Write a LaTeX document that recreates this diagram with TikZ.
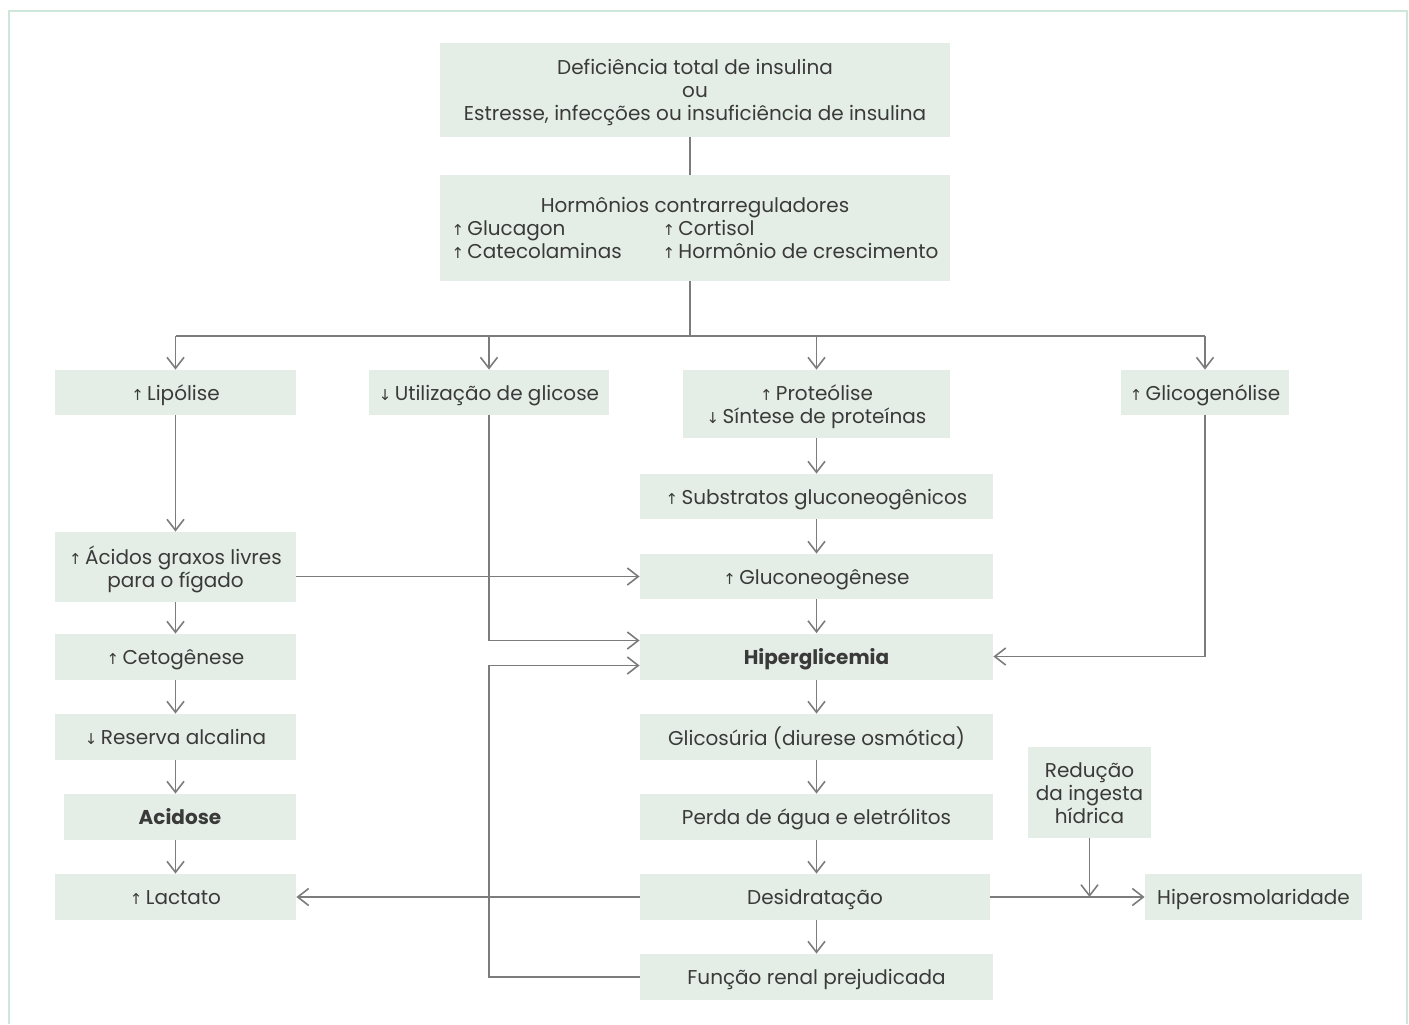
\documentclass[tikz,border=0pt]{standalone}
\usepackage{fontspec}
\setmainfont{Poppins}
\newfontfamily\arrowfont{DejaVu Sans}
\usetikzlibrary{arrows.meta}
\definecolor{boxfill}{HTML}{E5EEE6}
\definecolor{txt}{HTML}{3A3A3A}
\definecolor{wire}{HTML}{7C7C7C}
\definecolor{framecol}{HTML}{CFE6DB}
% small up / down markers used before the labels
\newcommand{\incr}{{\arrowfont\fontsize{7.5}{7.5}\selectfont ↑}\,}
\newcommand{\decr}{{\arrowfont\fontsize{7.5}{7.5}\selectfont ↓}\,}
% label text, set a little below the geometric centre of its box
\newcommand{\lbl}[1]{\raisebox{-1.5pt}[\height][\depth]{\begin{tabular}{@{}c@{}}#1\end{tabular}}}
\begin{document}
\begin{tikzpicture}[x=0.5pt,y=-0.5pt,
  box/.style={fill=boxfill, text=txt, align=center, inner sep=0pt,
    font=\fontsize{10}{11.5}\selectfont},
  wh/.style 2 args={minimum width=#1*0.5pt, minimum height=#2*0.5pt},
  wire/.style={draw=wire, line width=0.8pt},
  arr/.style={wire, -{Straight Barb[length=5.5pt,width=8.5pt]}}]
\useasboundingbox (0,0) rectangle (1409,1024);
% outer frame
\draw[framecol, line width=1.2pt] (9,1024) -- (9,11) -- (1407,11) -- (1407,1024);

% top of the cascade
\node[box, wh={510}{94}] (cause) at (695,90)
  {\lbl{Deficiência total de insulina\\ou\\Estresse, infecções ou insuficiência de insulina}};
\node[box, wh={510}{106}] (horm) at (695,228)
  {\raisebox{-1.5pt}[\height][\depth]{\begin{tabular}{@{}p{105.5pt}@{}l@{}}
   \multicolumn{2}{c}{Hormônios contrarreguladores}\\
   \incr Glucagon & \incr Cortisol\\
   \incr Catecolaminas & \incr Hormônio de crescimento
   \end{tabular}}};
\coordinate (split) at (690,336);

% first row of effects
\node[box, wh={241}{45}] (lip) at (175.5,392.5) {\lbl{\incr Lipólise}};
\node[box, wh={240}{45}] (util) at (489,392.5) {\lbl{\decr Utilização de glicose}};
\node[box, wh={267}{68}] (prot) at (816.5,404) {\lbl{\incr Proteólise\\\decr Síntese de proteínas}};
\node[box, wh={168}{45}] (glic) at (1205,392.5) {\lbl{\incr Glicogenólise}};

% left column
\node[box, wh={241}{70}] (acid) at (175.5,567) {\lbl{\incr Ácidos graxos livres\\para o fígado}};
\node[box, wh={241}{46}] (ceto) at (175.5,657) {\lbl{\incr Cetogênese}};
\node[box, wh={241}{46}] (res) at (175.5,737) {\lbl{\decr Reserva alcalina}};
\node[box, wh={232}{46}] (acd) at (180,817) {\lbl{\bfseries Acidose}};
\node[box, wh={241}{46}] (lact) at (175.5,897) {\lbl{\incr Lactato}};

% middle column
\node[box, wh={353}{45}] (subs) at (816.5,496.5) {\lbl{\incr Substratos gluconeogênicos}};
\node[box, wh={353}{45}] (gneo) at (816.5,576.5) {\lbl{\incr Gluconeogênese}};
\node[box, wh={353}{46}] (hip) at (816.5,656.5) {\lbl{\bfseries Hiperglicemia}};
\node[box, wh={353}{46}] (gsu) at (816.5,737) {\lbl{Glicosúria (diurese osmótica)}};
\node[box, wh={353}{46}] (perda) at (816.5,817) {\lbl{Perda de água e eletrólitos}};
\node[box, wh={350}{46}] (desid) at (815,897) {\lbl{Desidratação}};
\node[box, wh={353}{46}] (renal) at (816.5,977) {\lbl{Função renal prejudicada}};

% right side
\node[box, wh={123}{91}] (red) at (1089.5,792.5) {\lbl{Redução\\da ingesta\\hídrica}};
\node[box, wh={217}{46}] (osm) at (1253.5,897) {\lbl{Hiperosmolaridade}};

% trunk and branches
\draw[wire] (cause.south -| split) -- (horm.north -| split);
\draw[wire] (horm.south -| split) -- (split);
\draw[wire] (lip.north |- split) -- (glic.north |- split);
\draw[arr] (lip.north |- split) -- (lip.north);
\draw[arr] (util.north |- split) -- (util.north);
\draw[arr] (prot.north |- split) -- (prot.north);
\draw[arr] (glic.north |- split) -- (glic.north);

% left chain
\draw[arr] (lip) -- (acid);
\draw[arr] (acid) -- (ceto);
\draw[arr] (ceto) -- (res);
\draw[arr] (res.south) -- (res.south |- acd.north);
\draw[arr] (res.south |- acd.south) -- (lact.north);

% middle chain
\draw[arr] (prot) -- (subs);
\draw[arr] (subs) -- (gneo);
\draw[arr] (gneo) -- (hip);
\draw[arr] (hip) -- (gsu);
\draw[arr] (gsu) -- (perda);
\draw[arr] (perda.south) -- (perda.south |- desid.north);
\draw[arr] (perda.south |- desid.south) -- (renal.north);

% cross links
\draw[arr] (acid.east |- gneo.west) -- (gneo.west);
\draw[arr] (util.south) |- ([yshift=8pt]hip.west);
\draw[arr] (renal.west) -- (renal.west -| util.south) |- ([yshift=-4.5pt]hip.west);
\draw[arr] (glic.south) |- (hip.east);
\draw[arr] (desid.west) -- (lact.east);
\draw[arr] (desid.east) -- (osm.west);
\draw[arr] (red.south) -- (red.south |- desid.east);
\end{tikzpicture}
\end{document}
